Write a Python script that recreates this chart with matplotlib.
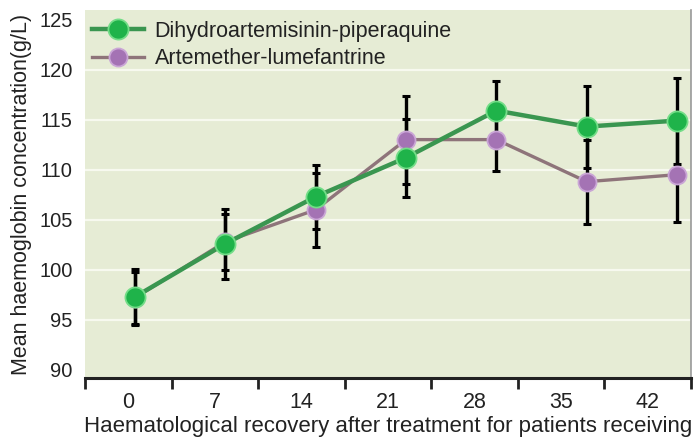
import matplotlib
matplotlib.use("Agg")
import matplotlib.pyplot as plt
import numpy as np

days = [0, 7, 14, 21, 28, 35, 42]
day_labels = ["0", "7", "14", "21", "28", "35", "42"]
dp_mean = [97.3, 102.6, 107.3, 111.2, 115.9, 114.3, 114.9]
dp_err = [2.8, 3.5, 3.2, 3.9, 3.0, 4.1, 4.3]
al_mean = [97.2, 102.8, 106.0, 113.0, 113.0, 108.8, 109.5]
al_err = [2.6, 2.8, 3.7, 4.4, 3.1, 4.2, 4.7]
series_names = ["Dihydroartemisinin-piperaquine", "Artemether-lumefantrine"]
y_ticks = [90, 95, 100, 105, 110, 115, 120, 125]

plt.rcParams['font.family'] = ['Liberation Sans', 'DejaVu Sans']

fig = plt.figure(figsize=(6.98, 4.45), dpi=100)
ax = fig.add_axes([0.1218, 0.1506, 0.868, 0.826])
ax.set_facecolor('#e6ecd5')

green = '#1fb34a'
green_line = '#3a9650'
purple = '#a473b4'
purple_line = '#8e747a'

ax.errorbar(days, dp_mean, yerr=dp_err, fmt='none', ecolor='black',
            elinewidth=2.4, capsize=3, capthick=2.2, zorder=3)
ax.errorbar(days, al_mean, yerr=al_err, fmt='none', ecolor='black',
            elinewidth=2.4, capsize=3, capthick=2.2, zorder=3)
ax.plot(days, al_mean, color=purple_line, lw=2.4, marker='o', markersize=13,
        markerfacecolor=purple, markeredgecolor='#caa6d6', markeredgewidth=1.3,
        zorder=4, label=series_names[1])
ax.plot(days, dp_mean, color=green_line, lw=3.2, marker='o', markersize=14.5,
        markerfacecolor=green, markeredgecolor='#74dd88', markeredgewidth=1.3,
        zorder=5, label=series_names[0])

ax.set_xlim(-3.87, 43.07)
ax.set_ylim(89.2, 125.9)
ax.set_yticks(y_ticks)
ax.set_yticklabels([str(v) for v in y_ticks])
ax.tick_params(axis='y', length=0, pad=9, labelsize=14.5, colors='#222222')
ax.set_xticks([])
for yv in y_ticks[1:-1]:
    ax.axhline(yv, color='#f7f9ef', lw=1.6, zorder=1)

for s in ['top', 'left', 'bottom']:
    ax.spines[s].set_visible(False)
ax.spines['right'].set_color('#999999')
ax.spines['right'].set_linewidth(1.2)

ax.set_ylabel("Mean haemoglobin concentration(g/L)", fontsize=15.5, labelpad=5,
              color='#222222')

# category axis for the bottom labels
ax2 = ax.twiny()
ax2.set_xlim(-0.5, len(days) - 0.5)
ax2.xaxis.set_ticks_position('bottom')
ax2.xaxis.set_label_position('bottom')
for s in ['top', 'left', 'right']:
    ax2.spines[s].set_visible(False)
ax2.spines['bottom'].set_visible(True)
ax2.spines['bottom'].set_linewidth(2.2)
ax2.spines['bottom'].set_color('#222222')
ax2.set_xticks(np.arange(-0.5, len(days)))
ax2.set_xticklabels([])
ax2.set_xticks(np.arange(len(days)), minor=True)
ax2.set_xticklabels(day_labels, minor=True)
ax2.tick_params(axis='x', which='major', direction='out', length=8, width=2,
                color='#222222')
ax2.tick_params(axis='x', which='minor', length=0, pad=10, labelsize=15.5,
                labelcolor='#222222')
ax2.set_xlabel("Haematological recovery after treatment for patients receiving",
               fontsize=16, labelpad=2, color='#222222')

handles, labels = ax.get_legend_handles_labels()
leg = ax.legend(handles[::-1], labels[::-1], loc='upper left',
                bbox_to_anchor=(-0.02, 1.025), frameon=False, fontsize=15.5,
                handlelength=2.4, handletextpad=0.5, labelspacing=0.3,
                labelcolor='#222222')

fig.savefig("out.png", dpi=100)
